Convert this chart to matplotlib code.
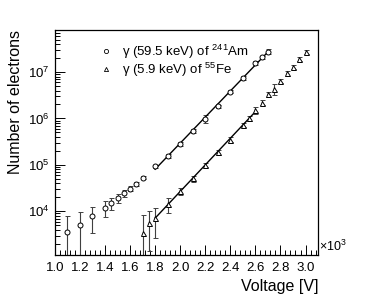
import matplotlib.pyplot as plt
import numpy as np
from matplotlib.ticker import MultipleLocator, LogLocator, NullFormatter
from matplotlib.lines import Line2D

plt.rcParams['font.family'] = ['Liberation Sans', 'DejaVu Sans']
plt.rcParams['mathtext.fontset'] = 'custom'
plt.rcParams['mathtext.rm'] = 'Liberation Sans'

# 59.5 keV gamma from 241Am (kV, electrons)
am_v = np.array([1.1, 1.2, 1.3, 1.4, 1.45, 1.5, 1.55, 1.6, 1.65, 1.7,
                 1.8, 1.9, 2.0, 2.1, 2.2, 2.3, 2.4, 2.5, 2.6, 2.65, 2.7])
am_n = np.array([3.6e3, 5.1e3, 7.8e3, 1.2e4, 1.5e4, 1.93e4, 2.47e4, 3.08e4, 3.96e4, 5.35e4,
                 9.3e4, 1.57e5, 2.8e5, 5.4e5, 9.8e5, 1.83e6, 3.8e6, 7.4e6, 1.55e7, 2.07e7, 2.76e7])
am_err = np.array([4300, 4400, 4400, 4600, 4500, 4500, 4500, 4000, 4000, 4000,
                   6e3, 1.5e4, 2.5e4, 5e4, 2e5, 1.5e5, 3e5, 7e5, 1.5e6, 1.5e6, 3e6])

# 5.9 keV gamma from 55Fe
fe_v = np.array([1.7, 1.75, 1.8, 1.9, 2.0, 2.1, 2.2, 2.3, 2.4, 2.5,
                 2.55, 2.6, 2.65, 2.7, 2.75, 2.8, 2.85, 2.9, 2.95, 3.0])
fe_n = np.array([3.5e3, 5.7e3, 7.1e3, 1.44e4, 2.7e4, 5.1e4, 1.0e5, 1.89e5, 3.5e5, 7.3e5,
                 1.0e6, 1.5e6, 2.2e6, 3.3e6, 4.4e6, 6.4e6, 9.3e6, 1.3e7, 1.9e7, 2.7e7])
fe_err = np.array([4800, 4300, 4500, 5000, 5000, 8000, 1.2e4, 2.5e4, 4e4, 8e4,
                   1.2e5, 2.5e5, 2.5e5, 4e5, 1.2e6, 7e5, 1e6, 1.4e6, 2e6, 3e6])

labels = ['γ (59.5 keV) of $^{241}$Am', 'γ (5.9 keV) of $^{55}$Fe']

fig = plt.figure(figsize=(3.66, 3.01), dpi=100)
ax = fig.add_axes([0.150, 0.153, 0.719, 0.747])

ax.errorbar(am_v, am_n, yerr=am_err, fmt='o', mfc='white', mec='black', ms=3.6,
            mew=0.7, ecolor='0.25', elinewidth=0.8, capsize=1.8, capthick=0.8)
ax.errorbar(fe_v, fe_n, yerr=fe_err, fmt='^', mfc='white', mec='black', ms=3.6,
            mew=0.7, ecolor='0.25', elinewidth=0.8, capsize=1.8, capthick=0.8)

# exponential fits
for v, n, hi in [(am_v, am_n, 2.7), (fe_v, fe_n, 2.6)]:
    sel = (v >= 1.8) & (v <= hi)
    p = np.polyfit(v[sel], np.log10(n[sel]), 1)
    xx = np.array([1.8, hi])
    ax.plot(xx, 10 ** np.polyval(p, xx), color='black', lw=1.0)

ax.set_yscale('log')
ax.set_xlim(1.0, 3.1)
ax.set_ylim(1.15e3, 8e7)

ax.xaxis.set_major_locator(MultipleLocator(0.2))
ax.xaxis.set_minor_locator(MultipleLocator(0.04))
ax.xaxis.set_major_formatter(plt.FuncFormatter(lambda x, _: f'{x:.1f}'))
ax.yaxis.set_major_locator(LogLocator(base=10, numticks=10))
ax.yaxis.set_minor_locator(LogLocator(base=10, subs=np.arange(2, 10), numticks=20))
ax.yaxis.set_minor_formatter(NullFormatter())
ax.tick_params(which='both', direction='in', top=False, right=False, labelsize=9.5, width=0.7)
ax.tick_params(which='major', length=7)
ax.tick_params(which='minor', length=3.5)
ax.tick_params(axis='x', pad=5)
for s in ax.spines.values():
    s.set_linewidth(0.9)

ax.set_xlabel('Voltage [V]', fontsize=11.5, loc='right')
ax.set_ylabel('Number of electrons', fontsize=11.5, loc='top')
ax.text(1.003, 0.005, r'$\times$10$^{3}$', transform=ax.transAxes, fontsize=9,
        ha='left', va='bottom')

handles = [Line2D([], [], ls='none', marker='o', mfc='white', mec='black', ms=3, mew=0.6),
           Line2D([], [], ls='none', marker='^', mfc='white', mec='black', ms=3, mew=0.6)]
ax.legend(handles, labels, loc='upper left', fontsize=9.5, frameon=False,
          handletextpad=0.5, handlelength=1.5,
          bbox_to_anchor=(0.12, 0.985), borderaxespad=0.3, labelspacing=0.0)

fig.savefig('out.png', dpi=100)
